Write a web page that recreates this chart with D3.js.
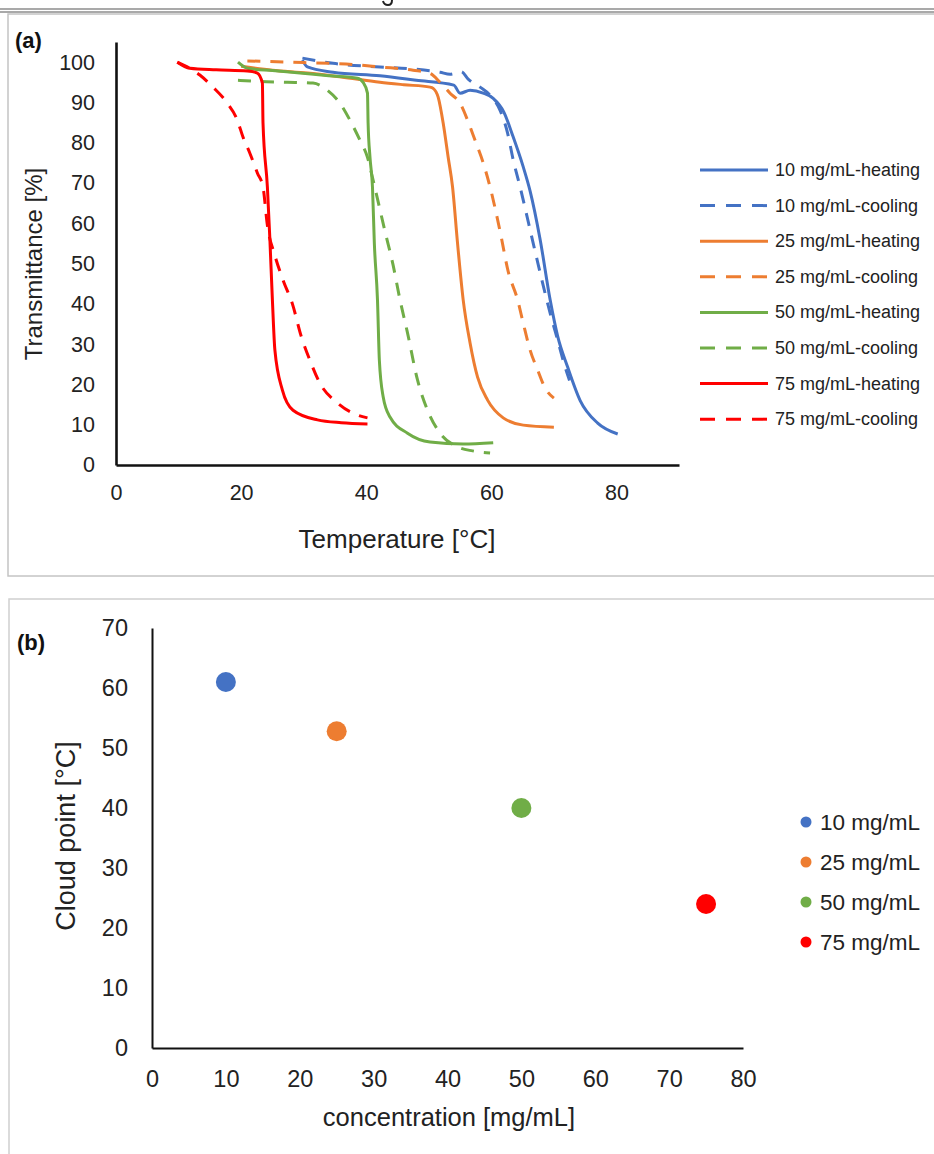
<!DOCTYPE html>
<html>
<head>
<meta charset="utf-8">
<script src="https://cdn.jsdelivr.net/npm/d3@7"></script>
<style>
  html, body { margin: 0; padding: 0; background: #fff; }
  svg { display: block; font-family: "Liberation Sans", Arial, sans-serif; }
</style>
</head>
<body>
<svg id="fig" width="934" height="1154"></svg>
<script>
// ---- Panel (a): transmittance vs temperature, [T (°C), transmittance (%)] ----
const heat10 = [[29.8,100.5],[30.6,98.8],[34.7,97.5],[42.2,96.6],[48,95.5],[54,94.3],[55,92.3],[56.6,93],[58.7,92.3],[60.3,91],[62,87.6],[63.5,81.4],[65.1,74],[66.2,68],[67.8,56],[69.4,41],[70.6,32],[72.2,24.3],[74.2,16],[77,10.4],[80.2,7.7]];
const cool10 = [[29.8,101],[34.7,99.7],[42.2,98.8],[47.5,98.3],[51.8,97.5],[53.4,97.0],[55.2,97.6],[56.3,95.8],[58.2,93.8],[59.8,91.8],[61.4,88],[62.6,82.4],[63.5,75.7],[64.6,69],[67,53],[69.4,37.7],[70.6,31],[71.8,24.3],[72.5,21]];
const heat25 = [[20,99],[25,98],[30.6,97.3],[36,96.3],[42.2,95],[46,94.4],[50.2,93.8],[50.7,93.5],[51.5,91.3],[52.3,84.9],[53.1,76.4],[53.8,69],[54.6,55],[55.5,41],[56.6,30.3],[57.8,21.8],[59.4,16.1],[61.9,11.7],[65.1,9.9],[70,9.4]];
const cool25 = [[21,100.3],[30,99.9],[38,99.4],[42.2,98.8],[47.5,98],[50.2,97.2],[51.8,95],[53.4,92.3],[55,89.8],[56.2,85.6],[57.4,80.6],[58.7,75],[59.8,69],[61.4,58],[62.7,48],[64.2,41],[65.1,35.2],[66.2,28.5],[67.4,23.6],[68.6,19.1],[70,16.6]];
const heat50 = [[19.5,100],[21,98.5],[25,97.9],[29.4,97.3],[34,96.6],[38.6,96],[39.5,95],[40.2,92.3],[40.3,84.9],[40.6,76.4],[41,69],[41.3,55],[41.8,41],[42.1,26],[42.7,17],[43.8,11.9],[46.6,7.9],[50.2,5.7],[55.5,5.2],[60.3,5.5]];
const cool50 = [[19.5,95.5],[23,95.2],[27.4,95],[31.5,94.8],[33.8,93],[35.8,89.8],[37.4,85.6],[39,80.6],[40.2,76.4],[41.1,70.7],[43,58],[44.3,49.6],[45.4,41],[46.6,32.8],[48.2,21.1],[49.8,13.6],[51.8,7.9],[54.6,4.5],[57,3.5],[59.8,3]];
const heat75 = [[9.8,100],[11.8,98.5],[16,98.1],[21,97.8],[22.6,97.3],[23.4,94.8],[23.5,84.9],[24.2,69],[24.6,56],[25,41],[25.4,28.5],[26.6,18.6],[28.3,13.6],[32.2,11.2],[36,10.5],[40.2,10.2]];
const cool75 = [[9.8,100],[13.4,96.8],[15.5,93.8],[17.8,89.8],[19.4,85.6],[20.3,81.4],[21.4,77.4],[22.6,72.5],[23.5,69],[24.2,59.5],[25.4,52],[26.8,45.5],[28.2,40],[29.6,32],[31,26],[32.6,20.3],[35.4,15.4],[38.6,12.4],[40.2,11.7]];

const seriesNamesA = ["10 mg/mL-heating","10 mg/mL-cooling","25 mg/mL-heating","25 mg/mL-cooling",
                      "50 mg/mL-heating","50 mg/mL-cooling","75 mg/mL-heating","75 mg/mL-cooling"];
const seriesDataA = [heat10, cool10, heat25, cool25, heat50, cool50, heat75, cool75];
const tempTicks = [0, 20, 40, 60, 80];
const transTicks = [0, 10, 20, 30, 40, 50, 60, 70, 80, 90, 100];

// ---- Panel (b): cloud point vs concentration ----
const concentrations = [10, 25, 50, 75];
const cloudPoints = [61, 52.8, 40, 24];
const seriesNamesB = ["10 mg/mL", "25 mg/mL", "50 mg/mL", "75 mg/mL"];
const concTicks = [0, 10, 20, 30, 40, 50, 60, 70, 80];
const cloudTicks = [0, 10, 20, 30, 40, 50, 60, 70];

// Palette (one colour per concentration) and dash style per run
const palette = ["#4472C4", "#ED7D31", "#70AD47", "#FF0000"];
const dashFor = i => (i % 2 === 1 ? "13,10" : null);
const colorFor = i => palette[Math.floor(i / 2)];

const svg = d3.select("#fig");
svg.append("rect").attr("width", 934).attr("height", 1154).attr("fill", "#fff");

// page rule, with the tail of a caption glyph just above it
svg.append("path").attr("d", "M383,1 Q384,5 388,5 Q392,5 392,0")
  .attr("fill", "none").attr("stroke", "#222").attr("stroke-width", 2);
svg.append("line").attr("x1", 0).attr("x2", 934).attr("y1", 9).attr("y2", 9).attr("stroke", "#555").attr("stroke-width", 1.2);
svg.append("line").attr("x1", 0).attr("x2", 934).attr("y1", 12).attr("y2", 12).attr("stroke", "#555").attr("stroke-width", 1.2);

// panel frames
svg.append("rect").attr("x", 8).attr("y", 14).attr("width", 940).attr("height", 562)
  .attr("fill", "none").attr("stroke", "#c4c4c4").attr("stroke-width", 1.5);
svg.append("rect").attr("x", 9).attr("y", 599).attr("width", 940).attr("height", 570)
  .attr("fill", "none").attr("stroke", "#d0d0d0").attr("stroke-width", 1.5);

// =================== Panel (a) ===================
const xA = d3.scaleLinear().domain([0, 90]).range([116, 679]);
const yA = d3.scaleLinear().domain([0, 105]).range([465, 42]);

const gA = svg.append("g");

function styleAxis(g, fontSize, strokeW) {
  g.selectAll("text").attr("font-size", fontSize).attr("fill", "#222")
    .attr("font-family", '"Liberation Sans", Arial, sans-serif');
  g.select(".domain").attr("stroke", "#111").attr("stroke-width", strokeW);
  g.selectAll(".tick line").remove();
}

gA.append("g").attr("transform", "translate(0,465)")
  .call(d3.axisBottom(xA).tickValues(tempTicks).tickSize(0).tickSizeOuter(0).tickPadding(20))
  .call(g => styleAxis(g, 21.5, 2.6));
gA.append("g").attr("transform", "translate(116,0)")
  .call(d3.axisLeft(yA).tickValues(transTicks).tickSize(0).tickSizeOuter(0).tickPadding(21))
  .call(g => styleAxis(g, 21.5, 2.6));

const lineA = d3.line().x(d => xA(d[0])).y(d => yA(d[1])).curve(d3.curveMonotoneX);
gA.selectAll("path.series").data(seriesDataA).join("path")
  .attr("class", "series")
  .attr("d", lineA)
  .attr("fill", "none")
  .attr("stroke", (d, i) => colorFor(i))
  .attr("stroke-width", 3)
  .attr("stroke-dasharray", (d, i) => dashFor(i))
  .attr("stroke-linejoin", "round");

gA.append("text").attr("x", 397).attr("y", 548).attr("text-anchor", "middle")
  .attr("font-size", 26).attr("fill", "#222").text("Temperature [°C]");
gA.append("text").attr("transform", "translate(42,264) rotate(-90)").attr("text-anchor", "middle")
  .attr("font-size", 24).attr("fill", "#222").text("Transmittance [%]");
gA.append("text").attr("x", 15).attr("y", 48).attr("font-size", 22).attr("font-weight", "bold")
  .attr("fill", "#111").text("(a)");

// legend (a)
const legA = gA.append("g");
seriesNamesA.forEach((name, i) => {
  const yy = 170 + i * 35.6;
  legA.append("line").attr("x1", 700).attr("x2", 768).attr("y1", yy).attr("y2", yy)
    .attr("stroke", colorFor(i)).attr("stroke-width", 3)
    .attr("stroke-dasharray", i % 2 === 1 ? "15,11" : null);
  legA.append("text").attr("x", 775).attr("y", yy + 6).attr("font-size", 18)
    .attr("fill", "#222").text(name);
});

// =================== Panel (b) ===================
const xB = d3.scaleLinear().domain([0, 80]).range([152, 743]);
const yB = d3.scaleLinear().domain([0, 70]).range([1048, 628]);
const gB = svg.append("g");

gB.append("g").attr("transform", "translate(0,1048)")
  .call(d3.axisBottom(xB).tickValues(concTicks).tickSize(0).tickSizeOuter(0).tickPadding(22))
  .call(g => styleAxis(g, 23.5, 2));
gB.append("g").attr("transform", "translate(152,0)")
  .call(d3.axisLeft(yB).tickValues(cloudTicks).tickSize(0).tickSizeOuter(0).tickPadding(24))
  .call(g => styleAxis(g, 23.5, 2));

gB.selectAll("circle.pt").data(concentrations).join("circle")
  .attr("class", "pt")
  .attr("cx", d => xB(d))
  .attr("cy", (d, i) => yB(cloudPoints[i]))
  .attr("r", 10)
  .attr("fill", (d, i) => palette[i]);

gB.append("text").attr("x", 449).attr("y", 1126).attr("text-anchor", "middle")
  .attr("font-size", 25.5).attr("fill", "#222").text("concentration [mg/mL]");
gB.append("text").attr("transform", "translate(75,836) rotate(-90)").attr("text-anchor", "middle")
  .attr("font-size", 27).attr("fill", "#222").text("Cloud point [°C]");
gB.append("text").attr("x", 17).attr("y", 650).attr("font-size", 22).attr("font-weight", "bold")
  .attr("fill", "#111").text("(b)");

// legend (b)
seriesNamesB.forEach((name, i) => {
  const yy = 822 + i * 40;
  gB.append("circle").attr("cx", 806).attr("cy", yy).attr("r", 5.5).attr("fill", palette[i]);
  gB.append("text").attr("x", 820).attr("y", yy + 8).attr("font-size", 22.5)
    .attr("fill", "#222").text(name);
});
</script>
</body>
</html>
